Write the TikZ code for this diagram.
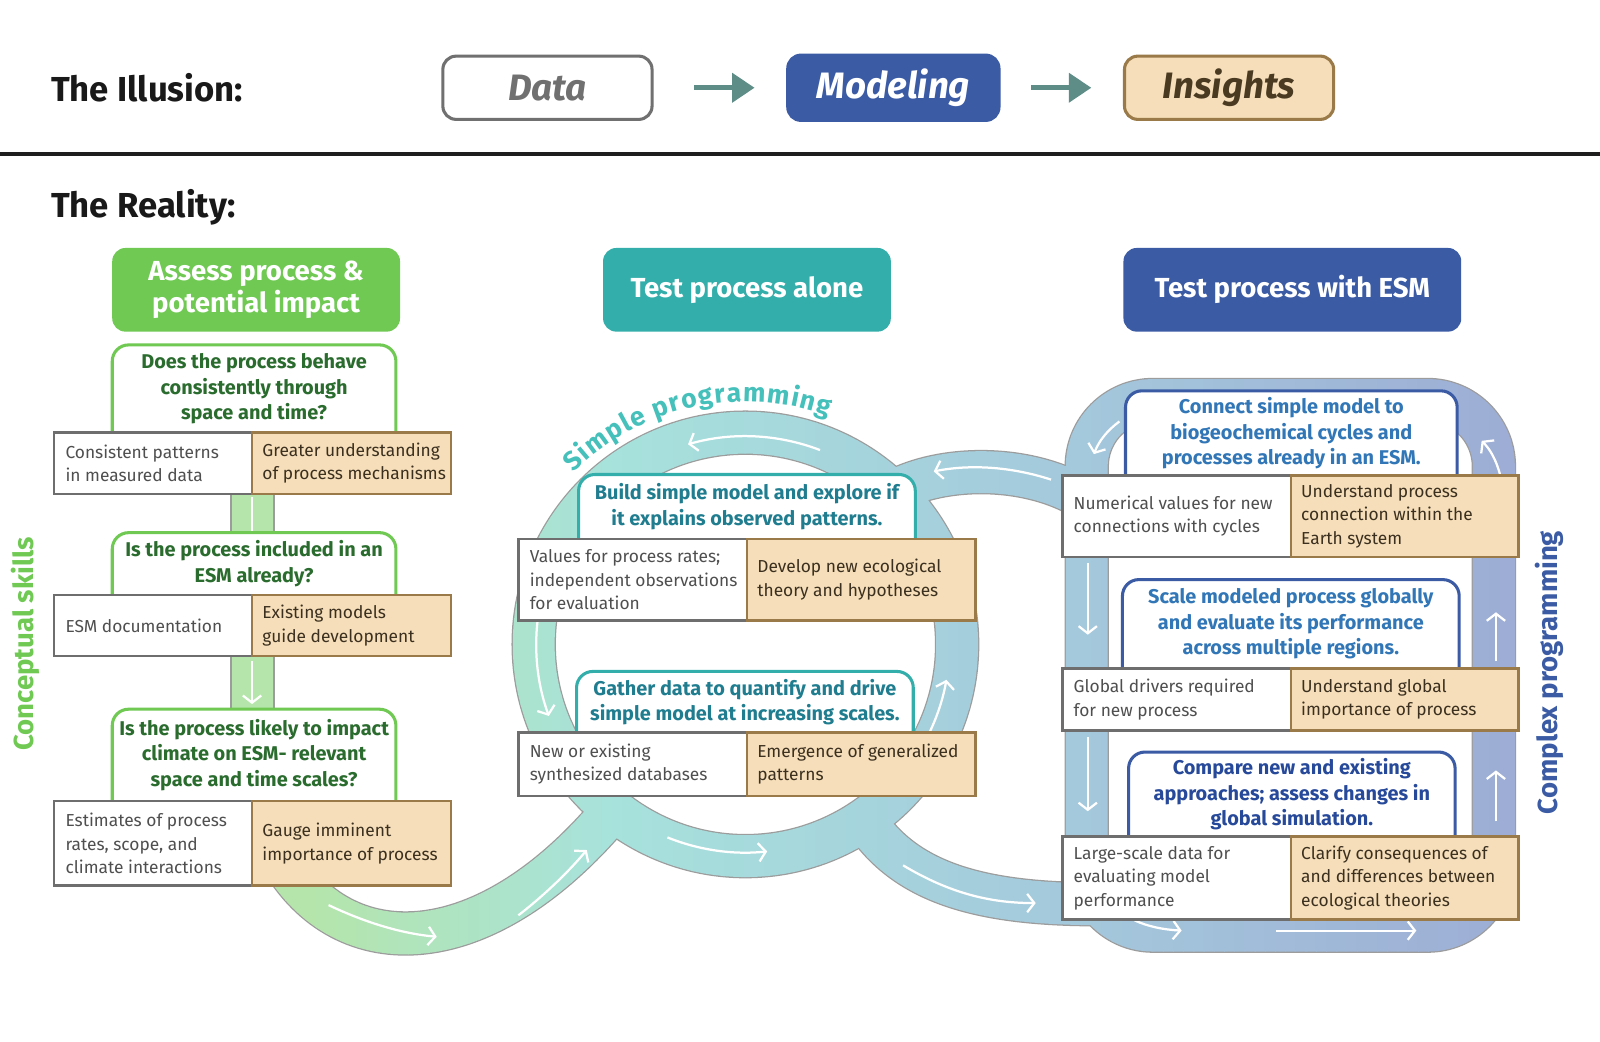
\documentclass[tikz,border=0pt]{standalone}
\usepackage{fontspec}
\setmainfont{Fira Sans}
\usetikzlibrary{arrows.meta,decorations.text}

\definecolor{ggreen}{HTML}{6FC953}
\definecolor{gteal}{HTML}{34AEAA}
\definecolor{gblue}{HTML}{3B5CA5}
\definecolor{qgreentxt}{HTML}{2A6B2E}
\definecolor{qtealtxt}{HTML}{1F7D8F}
\definecolor{qbluetxt}{HTML}{3176B6}
\definecolor{qnavytxt}{HTML}{27499A}
\definecolor{tanfill}{HTML}{F5DEB9}
\definecolor{tanline}{HTML}{9A7A48}
\definecolor{tantxt}{HTML}{3B2F1F}
\definecolor{insighttxt}{HTML}{4A3A22}
\definecolor{grayline}{HTML}{6E6E6E}
\definecolor{graytxt}{HTML}{4F4F4F}
\definecolor{illgray}{HTML}{707070}
\definecolor{bandG}{HTML}{B5E5AA}
\definecolor{bandT}{HTML}{A7E2DC}
\definecolor{bandB}{HTML}{A4C8DC}
\definecolor{bandP}{HTML}{9DADD5}
\definecolor{bandedge}{HTML}{9C9C9C}
\definecolor{illarrowc}{HTML}{5E8C87}
\definecolor{simpletxt}{HTML}{45C0BA}
\definecolor{rulec}{HTML}{1E1E1E}

\tikzset{
  titletext/.style={font=\bfseries\fontsize{34}{34}\selectfont, text=black!90, inner sep=0pt},
  illbox/.style={rounded corners=13pt, line width=3pt, minimum width=205pt, minimum height=62pt,
    font=\bfseries\itshape\fontsize{36}{36}\selectfont, inner sep=0pt},
  illarr/.style={draw=illarrowc, line width=5pt, -{Triangle[length=22pt,width=28pt]}},
  header/.style={rounded corners=13pt, minimum width=282pt, minimum height=82pt, text=white,
    align=center, font=\bfseries\fontsize{27}{32}\selectfont, inner sep=0pt},
  graybox/.style={draw=grayline, line width=2.5pt, fill=white, inner sep=0pt},
  tanbox/.style={draw=tanline, line width=2.5pt, fill=tanfill, inner sep=0pt},
  graytext/.style={text=graytxt, align=left, inner sep=0pt, font=\fontsize{17}{23}\selectfont},
  tantext/.style={text=tantxt, align=left, inner sep=0pt, font=\fontsize{17}{23}\selectfont},
  qtext/.style={align=center, inner sep=0pt, font=\bfseries\fontsize{19.5}{25}\selectfont},
  warrow/.style={draw=white, line width=2.2pt, -{Straight Barb[length=7pt,width=18pt]}},
  sidetext/.style={rotate=90, inner sep=0pt, font=\bfseries\fontsize{27}{27}\selectfont},
}

\newcommand\bandpaths[1]{%
  \draw[#1] (730.5,-631.5) circle[radius=207.5];
  \draw[#1] (247.5,-470) -- (247.5,-720);
  \draw[#1] (272,-835) .. controls (330,-945) and (470,-950) .. (600,-795);
  \draw[#1] (845,-800) .. controls (885,-865) and (960,-888) .. (1090,-886);
  \draw[#1] (875,-482) .. controls (925,-455) and (1010,-455) .. (1065,-490);
  \draw[#1, rounded corners=65pt] (1065,-392) rectangle (1464,-912);
}

\newcommand\cellpair[8]{%
  \pgfmathsetmacro\cpH{#6-#5}%
  \pgfmathsetmacro\cpWa{#3-#2}%
  \pgfmathsetmacro\cpWb{#4-#3}%
  \pgfmathsetmacro\cpXa{(#2+#3)/2}%
  \pgfmathsetmacro\cpXb{(#3+#4)/2}%
  \pgfmathsetmacro\cpY{-(#5+#6)/2}%
  \node[graybox, minimum width=\cpWa pt, minimum height=\cpH pt] (#1g) at (\cpXa,\cpY) {};
  \node[tanbox, minimum width=\cpWb pt, minimum height=\cpH pt] (#1t) at (\cpXb,\cpY) {};
  \node[graytext, anchor=west] (#1gx) at (#2+11,\cpY) {#7};
  \node[tantext, anchor=west] (#1tx) at (#3+10,\cpY) {#8};
}

\newcommand\qbox[8]{%
  \draw[line width=3pt, draw=#6, fill=white, rounded corners=16pt]
    (#2,-#5-20) -- (#2,-#4) -- (#3,-#4) -- (#3,-#5-20);
  \node[qtext, text=#7] (#1) at ({(#2+#3)/2},{-(#4+#5)/2}) {#8};
}

\begin{document}
\begin{tikzpicture}[x=1pt,y=1pt]
\useasboundingbox (0,0) rectangle (1568,-1021);
\fill[white] (0,0) rectangle (1568,-1021);

% ---------- The Illusion ----------
\node[titletext, anchor=west] (illusion) at (50,-86) {The Illusion:};
\node[illbox, draw=illgray, fill=white, text=illgray] (data) at (536.5,-86) {Data};
\node[illbox, draw=gblue, fill=gblue, text=white, minimum width=207pt, minimum height=64pt] (model) at (875.5,-86) {Modeling};
\node[illbox, draw=tanline, fill=tanfill, text=insighttxt] (insight) at (1204.5,-86) {Insights};
\draw[illarr, shorten <=40pt, shorten >=31pt] (data) -- (model);
\draw[illarr, shorten <=30pt, shorten >=31pt] (model) -- (insight);

\draw[line width=4pt, draw=rulec] (0,-151) -- (1568,-151);

% ---------- The Reality ----------
\node[titletext, anchor=west] (reality) at (50,-203) {The Reality:};

\node[header, fill=ggreen] (h1) at (251,-284) {Assess process \&\\potential impact};
\node[header, fill=gteal] (h2) at (732,-284) {Test process alone};
\node[header, fill=gblue, minimum width=331pt] (h3) at (1266.5,-284) {Test process with ESM};

% ---------- bands ----------
\bandpaths{line width=43.5pt, draw=bandedge}
\foreach \x in {200,210,...,1500}{%
  \pgfmathsetmacro\xa{\x+5}%
  \ifdim\xa pt<600pt
    \pgfmathsetmacro\p{max(0,min(100,(600-\xa)/3))}%
    \colorlet{strip}{bandG!\p!bandT}%
  \else\ifdim\xa pt<1060pt
    \pgfmathsetmacro\p{(1060-\xa)/4.6}%
    \colorlet{strip}{bandT!\p!bandB}%
  \else
    \pgfmathsetmacro\p{max(0,(1480-\xa)/4.2)}%
    \colorlet{strip}{bandB!\p!bandP}%
  \fi\fi
  \begin{scope}
    \clip (\x-0.4,0) rectangle (\x+10.4,-1021);
    \bandpaths{line width=41pt, draw=strip}
  \end{scope}
}

% white flow arrows
\draw[warrow] (247,-487) -- (247,-530);
\draw[warrow] (247,-648) -- (247,-690);
\draw[warrow] (322,-887) .. controls (360,-905) and (395,-915) .. (428,-918);
\draw[warrow] (508,-897) .. controls (530,-880) and (555,-857) .. (575,-833);
\draw[warrow] ([shift={(69:204)}]730.5,-631.5) arc[start angle=69,end angle=106,radius=204];
\draw[warrow] ([shift={(170:205)}]730.5,-631.5) arc[start angle=170,end angle=200,radius=205];
\draw[warrow] ([shift={(248:204)}]730.5,-631.5) arc[start angle=248,end angle=276,radius=204];
\draw[warrow] ([shift={(-28:200)}]730.5,-631.5) arc[start angle=-28,end angle=-10,radius=200];
\draw[warrow] (1030,-470) .. controls (990,-457) and (950,-455) .. (915,-462);
\draw[warrow] (885,-848) .. controls (930,-875) and (970,-885) .. (1015,-885);
\draw[warrow] (1097,-413) .. controls (1085,-422) and (1077,-432) .. (1072,-445);
\draw[warrow] (1066,-552) -- (1066,-622);
\draw[warrow] (1066,-722) -- (1066,-795);
\draw[warrow] (1112,-902) .. controls (1125,-908) and (1140,-911) .. (1158,-912);
\draw[warrow] (1250,-912) -- (1388,-912);
\draw[warrow] (1466,-648) -- (1466,-600);
\draw[warrow] (1466,-805) -- (1466,-755);
\draw[warrow] (1470,-465) .. controls (1466,-450) and (1460,-440) .. (1452,-432);

% curved label
\path[decorate, decoration={text along path, text align={fit to path},
  text={|\bfseries\fontsize{26}{26}\selectfont\color{simpletxt}|Simple programming}}]
  ([shift={(135:238)}]730.5,-631.5) arc[start angle=135,end angle=70,radius=238];

% side labels
\node[sidetext, text=ggreen] (concept) at (25,-631) {Conceptual skills};
\node[sidetext, text=gblue] (complex) at (1518,-659) {Complex programming};

% ---------- left column ----------
\qbox{q1}{110}{388}{338}{424}{ggreen}{qgreentxt}{Does the process behave\\consistently through\\space and time?}
\cellpair{c1}{53}{247}{442}{424}{484}{Consistent patterns\\in measured data}{Greater understanding\\of process mechanisms}
\qbox{q2}{110}{388}{522}{583}{ggreen}{qgreentxt}{Is the process included in an\\ESM already?}
\cellpair{c2}{53}{247}{442}{583}{643}{ESM documentation}{Existing models\\guide development}
\qbox{q3}{110}{388}{695}{785}{ggreen}{qgreentxt}{Is the process likely to impact\\climate on ESM- relevant\\space and time scales?}
\cellpair{c3}{53}{247}{442}{785}{868}{Estimates of process\\rates, scope, and\\climate interactions}{Gauge imminent\\importance of process}

% ---------- middle ----------
\qbox{qm1}{567}{897}{465}{528}{gteal}{qtealtxt}{Build simple model and explore if\\it explains observed patterns.}
\cellpair{cm1}{508}{732}{956}{528}{608}{Values for process rates;\\independent observations\\for evaluation}{Develop new ecological\\theory and hypotheses}
\qbox{qm2}{565}{895}{658}{718}{gteal}{qtealtxt}{Gather data to quantify and drive\\simple model at increasing scales.}
\cellpair{cm2}{508}{732}{956}{718}{780}{New or existing\\synthesized databases}{Emergence of generalized\\patterns}

% ---------- right ----------
\qbox{qr1}{1103}{1428}{383}{466}{gblue}{qbluetxt}{Connect simple model to\\biogeochemical cycles and\\processes already in an ESM.}
\cellpair{cr1}{1041}{1265}{1488}{466}{546}{Numerical values for new\\connections with cycles}{Understand process\\connection within the\\Earth system}
\qbox{qr2}{1100}{1430}{568}{655}{gblue}{qbluetxt}{Scale modeled process globally\\and evaluate its performance\\across multiple regions.}
\cellpair{cr2}{1041}{1265}{1488}{655}{716}{Global drivers required\\for new process}{Understand global\\importance of process}
\qbox{qr3}{1106}{1426}{737}{820}{gblue}{qnavytxt}{Compare new and existing\\approaches; assess changes in\\global simulation.}
\cellpair{cr3}{1041}{1265}{1488}{820}{901}{Large-scale data for\\evaluating model\\performance}{Clarify consequences of\\and differences between\\ecological theories}

\end{tikzpicture}
\end{document}
